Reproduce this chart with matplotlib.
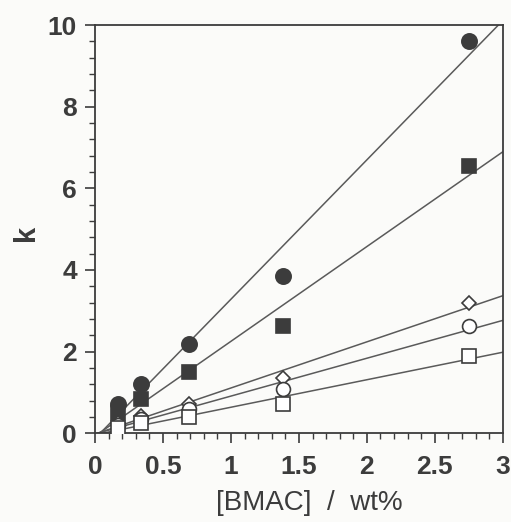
import numpy as np
import matplotlib
matplotlib.use("Agg")
import matplotlib.pyplot as plt
from matplotlib.ticker import MultipleLocator

plt.rcParams['font.family'] = ['Liberation Sans', 'DejaVu Sans']

bmac = np.array([0.17, 0.34, 0.69, 1.38, 2.75])
k_filled_circle = np.array([0.72, 1.20, 2.18, 3.85, 9.60])
k_filled_square = np.array([0.50, 0.85, 1.50, 2.63, 6.55])
k_open_diamond = np.array([0.25, 0.42, 0.72, 1.35, 3.18])
k_open_circle = np.array([0.20, 0.36, 0.60, 1.08, 2.62])
k_open_square = np.array([0.14, 0.25, 0.40, 0.72, 1.90])

ink = '#3c3c3c'
line_col = '#5a5a5a'

fig = plt.figure(figsize=(5.11, 5.22), dpi=100)
fig.patch.set_facecolor('#fbfbf9')
ax = fig.add_axes([0.186, 0.170, 0.798, 0.782])
ax.set_facecolor('#fbfbf9')

series = [
    (k_filled_circle, 'o', ink, 11),
    (k_filled_square, 's', ink, 10),
    (k_open_diamond, 'D', 'white', 7.5),
    (k_open_circle, 'o', 'white', 10),
    (k_open_square, 's', 'white', 10),
]

for y, m, fc, ms in series:
    slope, icpt = np.polyfit(bmac, y, 1)
    x0 = max(-icpt / slope, 0.0)
    xs = np.array([x0, 3.0])
    ax.plot(xs, slope * xs + icpt, color=line_col, lw=1.1, zorder=2)

for y, m, fc, ms in series:
    ax.plot(bmac, y, linestyle='none', marker=m, ms=ms, mfc=fc,
            mec=ink, mew=1.2, zorder=3)

ax.set_xlim(0, 3)
ax.set_ylim(0, 10)
ax.xaxis.set_minor_locator(MultipleLocator(0.1))
ax.yaxis.set_minor_locator(MultipleLocator(0.4))
ax.set_xticks([0, 0.5, 1, 1.5, 2, 2.5, 3])
ax.set_xticklabels(['0', '0.5', '1', '1.5', '2', '2.5', '3'])
ax.set_yticks([0, 2, 4, 6, 8, 10])
ax.set_yticklabels(['0', '2', '4', '6', '8', '10'])

for s in ax.spines.values():
    s.set_color(ink)
    s.set_linewidth(1.3)

ax.tick_params(which='major', direction='out', length=7, width=1.2,
               colors=ink, labelsize=19, pad=6)
ax.tick_params(axis='x', which='major', pad=9)
ax.tick_params(which='minor', direction='out', length=4, width=1.0, colors=ink)
for lbl in ax.get_xticklabels() + ax.get_yticklabels():
    lbl.set_fontweight('bold')

ax.set_xlabel('[BMAC]  /  wt%', fontsize=20, color=ink)
ax.xaxis.set_label_coords(0.525, -0.170)
ax.xaxis.label.set_va('center')
ax.set_ylabel('k', fontsize=21, color=ink, fontweight='bold')
ax.yaxis.set_label_coords(-0.169, 0.49)
ax.yaxis.label.set_va('center')

fig.savefig('out.png', dpi=100, facecolor=fig.get_facecolor())
